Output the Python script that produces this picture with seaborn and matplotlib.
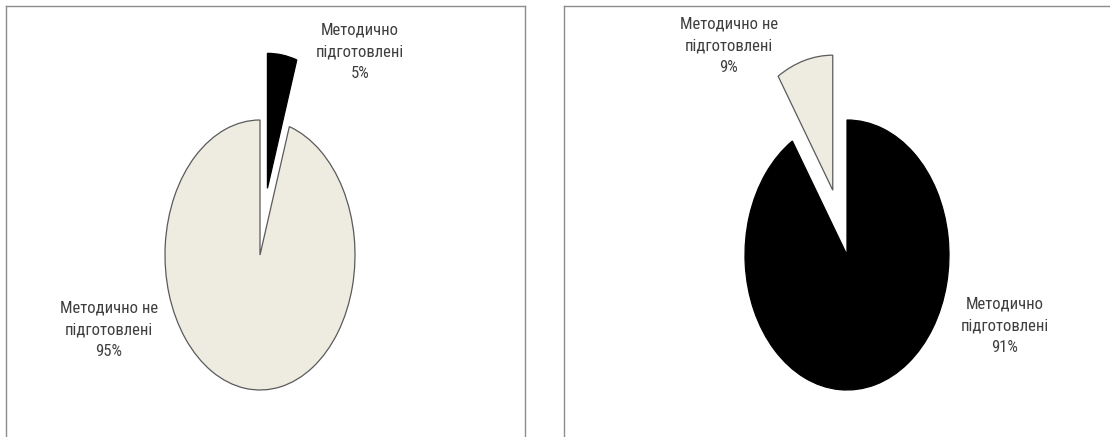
import matplotlib
matplotlib.use("Agg")
import matplotlib.pyplot as plt
import seaborn as sns
from matplotlib import font_manager as fm

sns.set_theme(style="white")
names = {f.name for f in fm.fontManager.ttflist}
fam = [n for n in ['Liberation Sans Narrow', 'Roboto Condensed', 'Roboto', 'DejaVu Sans'] if n in names]
plt.rcParams['font.family'] = fam

# ---- data ----
categories = ["Методично\nпідготовлені", "Методично не\nпідготовлені"]
values_left = [5, 95]
values_right = [91, 9]
colors = ["#000000", "#EEECE1"]
edge_colors = ["#000000", "#5a5a5a"]
explode_left = [0.5, 0.0]
explode_right = [0.0, 0.5]

W, H = 1110, 437
fig = plt.figure(figsize=(W / 100, H / 100), dpi=100)


def px_axes(x0, y0, x1, y1, **kw):
    return fig.add_axes([x0 / W, 1 - y1 / H, (x1 - x0) / W, (y1 - y0) / H], **kw)


# panel frames
for (x0, x1) in [(6, 525), (564, 1140)]:
    fa = px_axes(x0, 6, x1, 470)
    fa.set_xticks([]); fa.set_yticks([])
    fa.patch.set_alpha(0)
    for s in fa.spines.values():
        s.set_color("#8c8c8c")
        s.set_linewidth(1.0)

R = 1.6


def draw_pie(cx, cy, rx, ry, values, explode):
    ax = px_axes(cx - R * rx, cy - R * ry, cx + R * rx, cy + R * ry)
    ax.set_axis_off()
    wedges, _ = ax.pie(values, colors=colors, startangle=90, counterclock=False,
                       explode=explode, radius=1.0)
    for w, ec in zip(wedges, edge_colors):
        w.set_edgecolor(ec)
        w.set_linewidth(0.9)
    ax.set_aspect('auto')
    ax.set_xlim(-R, R)
    ax.set_ylim(-R, R)
    return ax


draw_pie(260, 255, 95, 135, values_left, explode_left)
draw_pie(847, 255, 102, 135, values_right, explode_right)

txt_kw = dict(ha="center", va="center", multialignment="center",
              fontsize=12, color="#3f3f3f", linespacing=1.55)


def label(x, y, cat, v):
    fig.text(x / W, 1 - y / H, f"{cat}\n{v}%", **txt_kw)


label(360, 52, categories[0], values_left[0])
label(109, 330, categories[1], values_left[1])
label(729, 46, categories[1], values_right[1])
label(1005, 326, categories[0], values_right[0])

fig.savefig("out.png", dpi=100)
